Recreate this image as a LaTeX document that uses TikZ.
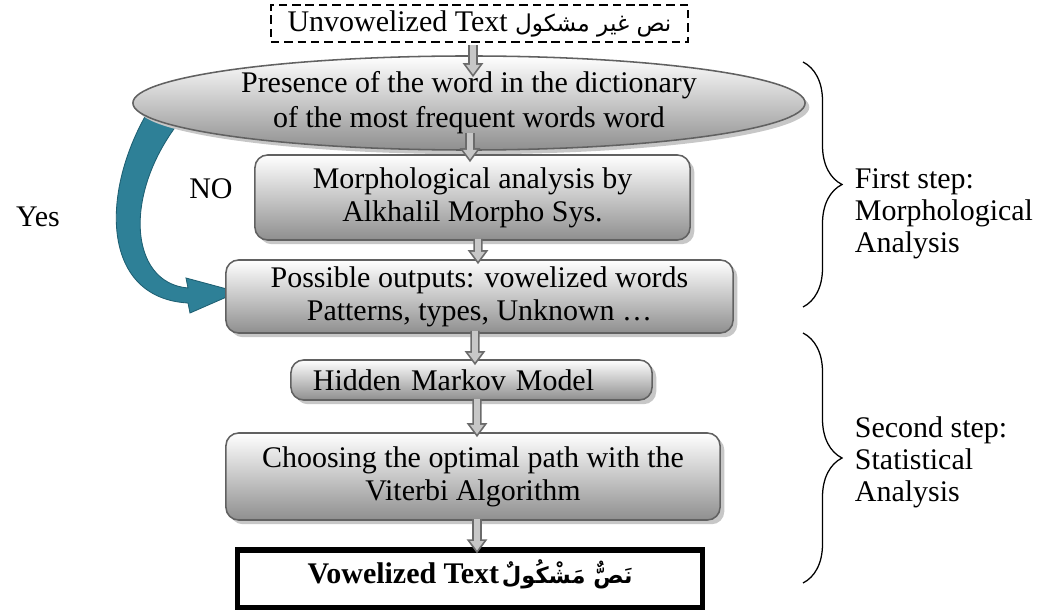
\documentclass[tikz,border=0pt]{standalone}
\usepackage{fontspec}
\setmainfont{Liberation Serif}
\newfontfamily\arabicfont[Script=Arabic]{DejaVu Sans}
\TeXXeTstate=1
\usetikzlibrary{shapes.geometric,shadows,decorations.pathreplacing,arrows.meta}
\definecolor{teal1}{HTML}{2E8097}
\definecolor{teal2}{HTML}{1E5F72}
\tikzset{
  txt/.style={font=\fontsize{21.3}{23.4}\selectfont},
  gbox/.style={txt, draw=black!62, line width=1.1pt, rounded corners=9pt,
    top color=white, bottom color=black!44, align=center, inner sep=0pt,
    drop shadow={shadow xshift=3pt, shadow yshift=-3pt, fill=black!22, opacity=1}},
  gell/.style={gbox, ellipse, rounded corners=0pt, font=\fontsize{21.3}{24.8}\selectfont},
  dbox/.style={txt, draw=black, line width=1.4pt, dash pattern=on 6pt off 3.5pt, inner sep=0pt},
  obox/.style={txt, draw=black, line width=3.6pt, inner xsep=0pt, inner ysep=0.05cm,
    text height=0.775cm, text depth=0.575cm},
  gout/.style={line width=6.5pt, draw=black!58, -{Triangle[width=14pt,length=10pt]}},
  gin/.style={line width=4.1pt, draw=black!22, shorten >=2.1pt, -{Triangle[width=9.4pt,length=6.7pt]}},
  brc/.style={draw=black, line width=0.9pt, decorate, decoration={brace, amplitude=0.975cm}},
  side/.style={txt, align=left, anchor=west, font=\fontsize{21.3}{22.8}\selectfont},
  lbl/.style={txt}
}
\newcommand\grayarrow[2]{\draw[gout] #1 -- #2; \draw[gin] #1 -- #2;}
\begin{document}
\begin{tikzpicture}[x=0.025cm,y=-0.025cm]
\useasboundingbox (0,0) rectangle (1040,610);

% curved teal arrow (Yes path)
\fill[teal1, draw=teal2, line width=0.6pt]
  (150,108) .. controls (100,190) and (100,298) .. (188,303)
  -- (190,313) -- (238,292) -- (186,278) -- (188,288)
  .. controls (128,283) and (122,190) .. (184,116) -- cycle;

% nodes
\node[dbox, minimum width=10.425cm, minimum height=0.925cm] (top) at (479.5,23.5)
  {Unvowelized Text {\arabicfont\fontsize{16.5}{20}\selectfont\beginR نص غير مشكول\endR}};
\node[gell, minimum width=16.8cm, minimum height=2.35cm] (ell) at (469,103)
  {Presence of the word in the dictionary\\of the most frequent words word};
\node[gbox, minimum width=10.875cm, minimum height=2.125cm] (morph) at (472.5,197.5)
  {Morphological analysis by\\Alkhalil Morpho Sys.};
\node[gbox, minimum width=12.675cm, minimum height=1.825cm] (poss) at (479.5,296.5)
  {Possible outputs: vowelized words\\Patterns, types, Unknown …};
\node[gbox, minimum width=9.025cm, minimum height=1cm, text width=7.925cm, align=left] (hmm) at (471.5,380)
  {Hidden Markov Model};
\node[gbox, minimum width=12.35cm, minimum height=2.175cm] (choose) at (473,476.5)
  {Choosing the optimal path with the\\Viterbi Algorithm};
\node[obox, minimum width=11.6cm] (out) at (470,579)
  {\bfseries Vowelized Text\kern2pt{\arabicfont\bfseries\fontsize{16}{20}\selectfont\beginR نَصٌّ مَشْكُولٌ\endR}};

% gray block arrows
\grayarrow{([shift={(-6.5,2)}]top.south)}{([shift={(4,22)}]ell.north)}
\grayarrow{([shift={(1,-18)}]ell.south)}{([shift={(-2.5,8)}]morph.north)}
\grayarrow{([shift={(5.5,-2)}]morph.south)}{([shift={(-1.5,5)}]poss.north)}
\grayarrow{([shift={(-4.5,-3)}]poss.south)}{([shift={(3.5,6)}]hmm.north)}
\grayarrow{([shift={(5.5,-2)}]hmm.south)}{([shift={(4,5)}]choose.north)}
\grayarrow{([shift={(4,-2)}]choose.south)}{([shift={(7,6)}]out.north)}

% labels
\node[lbl] (no) at (211,189) {NO};
\node[lbl] (yes) at (38,217) {Yes};

% braces
\coordinate (b1a) at (803,62);
\coordinate (b1b) at (803,307);
\coordinate (b2a) at (803,333);
\coordinate (b2b) at (803,583);
\draw[brc] (b1a) -- (b1b);
\draw[brc] (b2a) -- (b2b);
\node[side] (s1) at (850,214) {First step:\\Morphological\\Analysis};
\node[side] (s2) at (850,462) {Second step:\\Statistical\\Analysis};
\end{tikzpicture}
\end{document}
